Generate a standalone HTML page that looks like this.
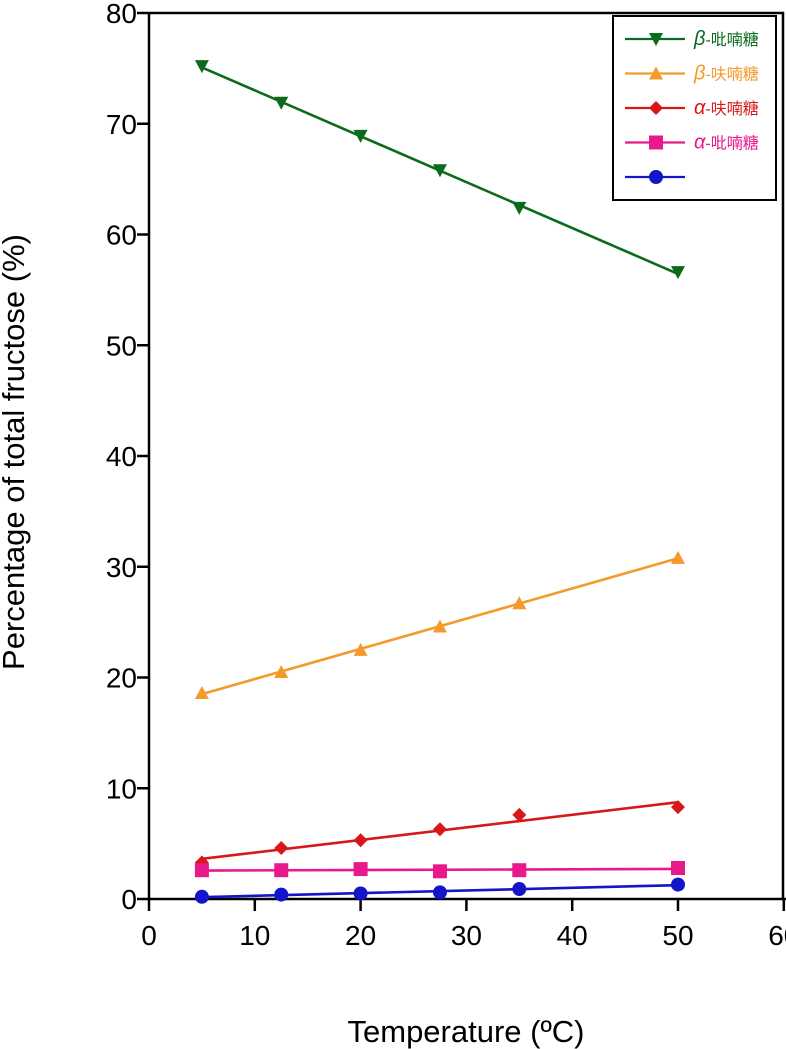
<!DOCTYPE html>
<html><head><meta charset="utf-8"><style>
body{margin:0;background:#fff}
svg{display:block;font-family:"Liberation Sans","Noto Sans CJK SC",sans-serif}
</style></head><body>
<svg id="c" width="786" height="1049"></svg>
<script>
const xs=[5,12.5,20,27.5,35,50];
const betaPyr=[75.2,71.9,68.9,65.8,62.4,56.6];
const betaFur=[18.6,20.5,22.5,24.6,26.7,30.8];
const alphaFur=[3.3,4.6,5.3,6.3,7.6,8.3];
const alphaPyr=[2.6,2.6,2.7,2.5,2.6,2.8];
const other=[0.2,0.4,0.5,0.6,0.9,1.3];
const xTicks=[0,10,20,30,40,50,60];
const yTicks=[0,10,20,30,40,50,60,70,80];
const NS="http://www.w3.org/2000/svg";
const svg=document.getElementById('c');
const X=v=>149+v*10.58, Y=v=>899-v*11.075;
function mk(t,a,p){const e=document.createElementNS(NS,t);for(const k in a)e.setAttribute(k,a[k]);(p||svg).appendChild(e);return e;}
let ax=mk('path',{d:`M149,13V899H786M149,13H783V899`,stroke:'#000','stroke-width':2.5,fill:'none'});


xTicks.forEach(t=>{
 const l=mk('line',{x1:X(t),x2:X(t),y1:899,y2:911,stroke:'#000','stroke-width':2.5});
 
 
 const s=mk('text',{x:X(t),y:945,'font-size':28,'text-anchor':'middle'});s.textContent=t;
 
 
});
yTicks.forEach(t=>{
 const l=mk('line',{x1:137,x2:149,y1:Y(t),y2:Y(t),stroke:'#000','stroke-width':2.5});
 
 
 const s=mk('text',{x:137,y:Y(t)+10,'font-size':28,'text-anchor':'end'});s.textContent=t;
 
 
});
let xt=mk('text',{x:466,y:1042,'font-size':31,'text-anchor':'middle'});xt.textContent='Temperature (ºC)';


let yt=mk('text',{x:0,y:0,'font-size':31,'text-anchor':'middle',transform:'translate(24,452) rotate(-90)'});yt.textContent='Percentage of total fructose (%)';


function marker(shape,cx,cy,col,g){
 let e;
 if(shape==='tri-down')e=mk('path',{d:`M${cx-7},${cy-6}H${cx+7}L${cx},${cy+7}Z`,fill:col},g);
 else if(shape==='tri-up')e=mk('path',{d:`M${cx-7},${cy+6}H${cx+7}L${cx},${cy-7}Z`,fill:col},g);
 else if(shape==='diamond')e=mk('path',{d:`M${cx},${cy-7}L${cx+7},${cy}L${cx},${cy+7}L${cx-7},${cy}Z`,fill:col},g);
 else if(shape==='square')e=mk('rect',{x:cx-7,y:cy-7,width:14,height:14,fill:col},g);
 else e=mk('circle',{cx,cy,r:7,fill:col},g);
 return e;
}
function fit(ys){const n=xs.length;const mx=xs.reduce((a,b)=>a+b)/n,my=ys.reduce((a,b)=>a+b)/n;let sxy=0,sxx=0;xs.forEach((x,i)=>{sxy+=(x-mx)*(ys[i]-my);sxx+=(x-mx)**2});const b=sxy/sxx;return [my-b*mx,b];}
const series=[
 [betaPyr,'#0b6b1c','tri-down','β','-吡喃糖','series-beta-pyranose'],
 [betaFur,'#f39a2a','tri-up','β','-呋喃糖','series-beta-furanose'],
 [alphaFur,'#d81818','diamond','α','-呋喃糖','series-alpha-furanose'],
 [alphaPyr,'#e8198b','square','α','-吡喃糖','series-alpha-pyranose'],
 [other,'#1414c8','circle','','','series-other']
];
let lg=mk('rect',{x:613,y:16,width:163,height:184,fill:'#fff',stroke:'#000','stroke-width':2});


series.forEach((s,k)=>{
 const [ys,col,shape,gr,lab,name]=s;
 const g=mk('g',{});
 
 
 const [a,b]=fit(ys);
 mk('line',{x1:X(xs[0]),y1:Y(a+b*xs[0]),x2:X(xs[xs.length-1]),y2:Y(a+b*xs[xs.length-1]),stroke:col,'stroke-width':2.6},g);
 xs.forEach((x,i)=>marker(shape,X(x),Y(ys[i]),col,g));
 const ly=39+k*34.5;
 const le=mk('g',{});
 
 
 mk('line',{x1:625,x2:685,y1:ly,y2:ly,stroke:col,'stroke-width':2.2},le);
 marker(shape,656,ly,col,le);
 if(lab){const t=mk('text',{x:694,y:ly+6,'font-size':16,fill:col},le);
  const t1=mk('tspan',{'font-style':'italic','font-size':20},t);t1.textContent=gr;
  const t2=mk('tspan',{},t);t2.textContent=lab;}
});
</script>
</body></html>
